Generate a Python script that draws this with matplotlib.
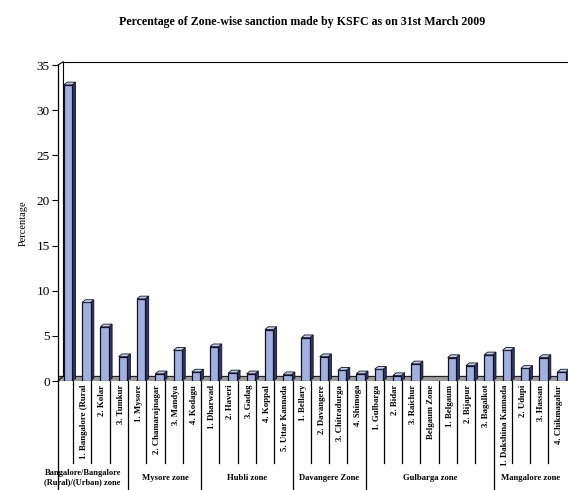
import matplotlib
matplotlib.use("Agg")
import matplotlib.pyplot as plt
from matplotlib.patches import Polygon
import matplotlib.transforms as mtrans

plt.rcParams["font.family"] = ["Liberation Serif", "DejaVu Serif"]

# ── data ──
districts = ["", "1. Bangalore (Rural", "2. Kolar", "3. Tumkur",
             "1. Mysore", "2. Chamarajnagar", "3. Mandya", "4. Kodagu",
             "1. Dharwad", "2. Haveri", "3. Gadag", "4. Koppal", "5. Uttar Kannada",
             "1. Bellary", "2. Davangere", "3. Chitradurga", "4. Shimoga",
             "1. Gulbarga", "2. Bidar", "3. Raichur", "Belgaum Zone",
             "1. Belgaum", "2. Bijapur", "3. Bagalkot",
             "1. Dakshina Kannada", "2. Udupi", "3. Hassan", "4. Chikmagalur"]
values = [32.8, 8.7, 6.0, 2.7,
          9.1, 0.8, 3.4, 1.0,
          3.8, 0.9, 0.8, 5.7, 0.7,
          4.8, 2.7, 1.2, 0.8,
          1.3, 0.6, 1.9, 0.0,
          2.6, 1.7, 2.9,
          3.4, 1.4, 2.6, 1.0]
zones = ["Bangalore/Bangalore\n(Rural)/(Urban) zone", "Mysore zone", "Hubli zone",
         "Davangere Zone", "Gulbarga zone", "Mangalore zone"]
zone_sizes = [4, 4, 5, 4, 7, 4]

title = "Percentage of Zone-wise sanction made by KSFC as on 31st March 2009"

# ── figure ──
fig = plt.figure(figsize=(5.68, 4.9), dpi=100)
ax = fig.add_axes([58 / 568, 1 - 381 / 490, 1 - 58 / 568, 316 / 490])
ax.set_xlim(-0.55, 27.35)
ax.set_ylim(0, 35)

w = 0.46
dx, dy = 0.18, 0.3
front, side, top, edge = "#A2B0E0", "#2E3868", "#C3CCEE", "#111122"

# 3D floor
ax.axhspan(0, 0.55, color="#9C9C9C", zorder=1)
ax.axhline(0.55, color="#222222", lw=0.8, zorder=1.5)

xs = list(range(len(values)))
ax.bar(xs, values, width=w, color=front, edgecolor=edge, linewidth=0.9, zorder=3)
for x, v in zip(xs, values):
    if v <= 0:
        continue
    r = x + w / 2
    l = x - w / 2
    ax.add_patch(Polygon([(r, 0), (r + dx, dy), (r + dx, v + dy), (r, v)],
                         closed=True, fc=side, ec=edge, lw=0.6, zorder=2.9))
    ax.add_patch(Polygon([(l, v), (l + dx, v + dy), (r + dx, v + dy), (r, v)],
                         closed=True, fc=top, ec=edge, lw=0.6, zorder=3.1))

# axes styling
for s in ["top", "right", "bottom"]:
    ax.spines[s].set_visible(False)
ax.spines["left"].set_linewidth(0.9)
ax.set_yticks(range(0, 36, 5))
ax.tick_params(axis="y", direction="out", length=4, width=0.8, labelsize=9.5, pad=2)
ax.set_xticks([])
ax.set_ylabel("Percentage", fontsize=7.5, labelpad=6)

# back wall lines
ax.plot([0.01, 1.0], [1.01, 1.01], transform=ax.transAxes, color="black", lw=0.8, clip_on=False)
ax.plot([0.01, 0.01], [0.015, 1.01], transform=ax.transAxes, color="black", lw=0.8, clip_on=False)
ax.plot([0.0, 0.01], [1.0, 1.01], transform=ax.transAxes, color="black", lw=0.8, clip_on=False)
ax.plot([0.0, 0.01], [0.0, 0.015], transform=ax.transAxes, color="black", lw=0.8, clip_on=False)

# category label table
trans = mtrans.blended_transform_factory(ax.transData, ax.transAxes)
short_y, long_y = -0.26, -0.35
off = -0.22
bounds = []
acc = 0
for n in zone_sizes:
    bounds.append(acc)
    acc += n
for i in range(1, len(values)):
    yb = long_y if i in bounds else short_y
    ax.plot([i - 0.5 + off] * 2, [0, yb], transform=trans, color="black", lw=0.9, clip_on=False)
ax.plot([-0.55] * 2, [0, long_y], transform=trans, color="black", lw=0.9, clip_on=False)

for x, name in zip(xs, districts):
    ax.text(x - 0.12, -0.012, name, rotation=90, ha="center", va="top", transform=trans,
            fontsize=6.3, fontweight="bold")

for start, n, z in zip(bounds, zone_sizes, zones):
    c = start + (n - 1) / 2
    if start == 0:
        ax.text(c - 0.7, -0.28, z, ha="center", va="top", transform=trans,
                fontsize=6.0, fontweight="bold", linespacing=1.15)
    else:
        ax.text(c - 0.2, -0.295, z, ha="center", va="top", transform=trans,
                fontsize=6.2, fontweight="bold")

fig.text(302 / 568, 1 - 22 / 490, title, ha="center", va="center",
         fontsize=8.6, fontweight="bold")

fig.savefig("out.png", dpi=100)
